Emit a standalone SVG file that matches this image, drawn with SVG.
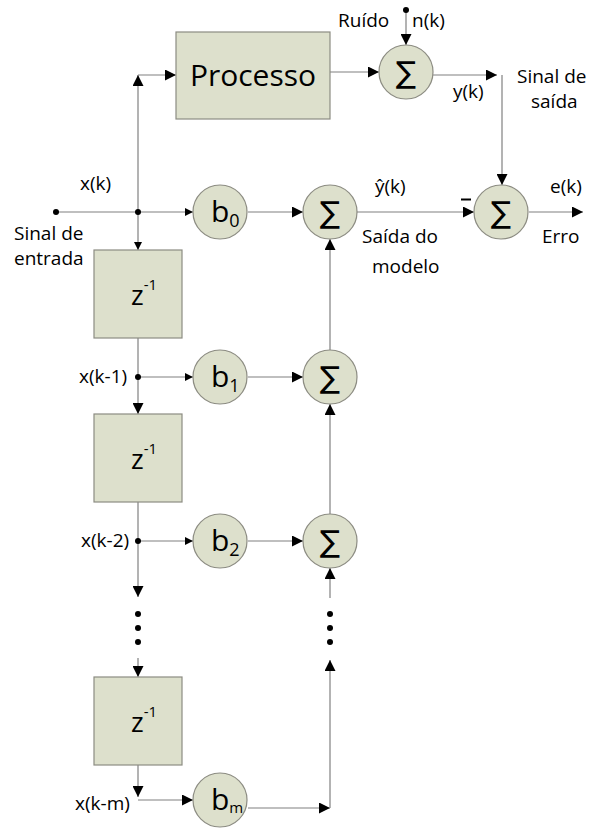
<svg xmlns="http://www.w3.org/2000/svg" width="592" height="828" viewBox="0 0 592 828">
<style>
.box{fill:#dde0cc;stroke:#8c8c82;stroke-width:1.2}
.ln{fill:none;stroke:#808080;stroke-width:1.2}
.t{font-family:"Open Sans","Liberation Sans",sans-serif;fill:#000;font-size:19px}
.big{font-family:"Open Sans","Liberation Sans",sans-serif;fill:#000;font-size:30px}
.bb{font-family:"Open Sans","Liberation Sans",sans-serif;fill:#000;font-size:30px}
.zz{font-family:"Open Sans","Liberation Sans",sans-serif;fill:#000;font-size:27px}
.sig{font-family:"DejaVu Sans",sans-serif;fill:#000;font-size:30px;text-anchor:middle}
.dot{fill:#000}
</style>
<defs>
<marker id="ar" viewBox="0 0 10 10" refX="10" refY="5" markerWidth="11" markerHeight="11" markerUnits="userSpaceOnUse" orient="auto">
<path d="M0,0 L10,5 L0,10 z" fill="#000"/>
</marker>
<marker id="ars" viewBox="0 0 10 10" refX="10" refY="5" markerWidth="8" markerHeight="8" markerUnits="userSpaceOnUse" orient="auto">
<path d="M0,0 L10,5 L0,10 z" fill="#000"/>
</marker>
</defs>
<g id="connectors">
<path class="ln" d="M56,212 H138"/>
<path class="ln" d="M138,212 V75" marker-end="url(#ar)"/>
<path class="ln" d="M138,75 H176" marker-end="url(#ar)"/>
<path class="ln" d="M138,212 H193" marker-end="url(#ars)"/>
<path class="ln" d="M138,212 V250" marker-end="url(#ars)"/>
<path class="ln" d="M248,212 H303" marker-end="url(#ar)"/>
<path class="ln" d="M138,338 V414" marker-end="url(#ar)"/>
<path class="ln" d="M138,377 H193" marker-end="url(#ars)"/>
<path class="ln" d="M248,377 H303" marker-end="url(#ar)"/>
<path class="ln" d="M138,502 V597" marker-end="url(#ar)"/>
<path class="ln" d="M138,541 H193" marker-end="url(#ars)"/>
<path class="ln" d="M248,541 H303" marker-end="url(#ar)"/>
<path class="ln" d="M138,658 V677" marker-end="url(#ar)"/>
<path class="ln" d="M138,765 V797" marker-end="url(#ar)"/>
<path class="ln" d="M138,800 H193" marker-end="url(#ar)"/>
<path class="ln" d="M248,808 H330" marker-end="url(#ar)"/>
<path class="ln" d="M330,808 V660" marker-end="url(#ar)"/>
<path class="ln" d="M330,598 V568" marker-end="url(#ar)"/>
<path class="ln" d="M330,514 V404" marker-end="url(#ar)"/>
<path class="ln" d="M330,350 V239" marker-end="url(#ar)"/>
<path class="ln" d="M357,212 H474" marker-end="url(#ar)"/>
<path class="ln" d="M330,72 H379" marker-end="url(#ar)"/>
<path class="ln" d="M406,10 V45" marker-end="url(#ar)"/>
<path class="ln" d="M433,75 H497" marker-end="url(#ar)"/>
<path class="ln" d="M502,75 V185" marker-end="url(#ar)"/>
<path class="ln" d="M529,212 H583" marker-end="url(#ar)"/>
<path d="M461,199.5 H471" stroke="#000" stroke-width="2"/>
<circle class="dot" cx="56" cy="212" r="3"/>
<circle class="dot" cx="138" cy="212" r="3"/>
<circle class="dot" cx="138" cy="377" r="3"/>
<circle class="dot" cx="138" cy="541" r="3"/>
<circle class="dot" cx="406" cy="10" r="3"/>
<circle class="dot" cx="138" cy="614" r="3"/>
<circle class="dot" cx="138" cy="628" r="3"/>
<circle class="dot" cx="138" cy="642" r="3"/>
<circle class="dot" cx="330" cy="614" r="3"/>
<circle class="dot" cx="330" cy="628" r="3"/>
<circle class="dot" cx="330" cy="642" r="3"/>
</g>
<g id="processo"><rect class="box" x="176" y="32" width="154" height="87"/><text class="big" x="253" y="86" text-anchor="middle">Processo</text></g>
<g id="sum-noise"><circle class="box" cx="406" cy="72" r="27"/><text class="sig" x="406" y="83">∑</text></g>
<g id="sum-err"><circle class="box" cx="501" cy="212" r="27"/><text class="sig" x="501" y="223">∑</text></g>
<g id="sum0"><circle class="box" cx="330" cy="212" r="27"/><text class="sig" x="330" y="223">∑</text></g>
<g id="sum1"><circle class="box" cx="330" cy="377" r="27"/><text class="sig" x="330" y="388">∑</text></g>
<g id="sum2"><circle class="box" cx="330" cy="541" r="27"/><text class="sig" x="330" y="552">∑</text></g>
<g id="b0"><circle class="box" cx="220" cy="212" r="27"/><text class="bb" x="211" y="222">b<tspan font-size="18" dy="5">0</tspan></text></g>
<g id="b1"><circle class="box" cx="220" cy="377" r="27"/><text class="bb" x="211" y="387">b<tspan font-size="18" dy="5">1</tspan></text></g>
<g id="b2"><circle class="box" cx="220" cy="541" r="27"/><text class="bb" x="211" y="551">b<tspan font-size="18" dy="5">2</tspan></text></g>
<g id="bm"><circle class="box" cx="220" cy="800" r="27"/><text class="bb" x="211" y="810">b<tspan font-size="15" dy="3">m</tspan></text></g>
<g id="z1"><rect class="box" x="94" y="250" width="88" height="88"/><text class="zz" x="131" y="305">z<tspan font-size="15" dy="-15">-1</tspan></text></g>
<g id="z2"><rect class="box" x="94" y="414" width="88" height="88"/><text class="zz" x="131" y="469">z<tspan font-size="15" dy="-15">-1</tspan></text></g>
<g id="z3"><rect class="box" x="94" y="677" width="88" height="88"/><text class="zz" x="131" y="732">z<tspan font-size="15" dy="-15">-1</tspan></text></g>
<g id="labels">
<text class="t" x="80" y="190">x(k)</text>
<text class="t" x="14" y="240">Sinal de</text>
<text class="t" x="14" y="265">entrada</text>
<text class="t" x="79" y="383">x(k-1)</text>
<text class="t" x="81" y="547">x(k-2)</text>
<text class="t" x="75" y="810">x(k-m)</text>
<text class="t" x="338" y="27">Ruído</text>
<text class="t" x="412" y="27">n(k)</text>
<text class="t" x="453" y="98">y(k)</text>
<text class="t" x="517" y="83">Sinal de</text>
<text class="t" x="531" y="108">saída</text>
<text class="t" x="375" y="193">ŷ(k)</text>
<text class="t" x="550" y="193">e(k)</text>
<text class="t" x="362" y="243">Saída do</text>
<text class="t" x="372" y="273">modelo</text>
<text class="t" x="542" y="243">Erro</text>
</g>
</svg>
